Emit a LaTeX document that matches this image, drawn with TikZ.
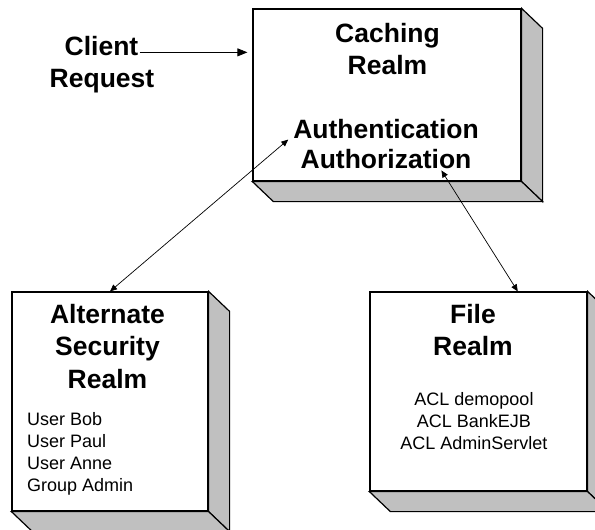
\documentclass[tikz,border=0pt]{standalone}
\usepackage{fontspec}
\setmainfont{Liberation Sans}
\usetikzlibrary{arrows.meta}
\usetikzlibrary{calc}
\definecolor{realmgray}{RGB}{192,192,192}

\begin{document}
\begin{tikzpicture}[x=1pt,y=-1pt,
        realm/.style={draw, line width=1.2pt, fill=white, inner sep=0pt},
        realmface/.style={draw, line width=1.2pt, fill=realmgray},
        title/.style={font=\fontsize{26.5}{32.5}\selectfont\bfseries, align=center, inner sep=1pt},
        entry/.style={font=\fontsize{18}{22}\selectfont, inner sep=1pt},
        link/.style={line width=0.7pt, {Triangle[length=7pt,width=6pt]}-{Triangle[length=7pt,width=6pt]}}]
            % page
            \clip (0,0) rectangle (595,530);

            % realm boxes
            \node[realm, minimum width=268pt, minimum height=172pt] (caching) at (387,95) {};
            \node[realm, minimum width=196pt, minimum height=219pt] (alternate) at (110,401.5) {};
            \node[realm, minimum width=217pt, minimum height=199pt] (file) at (478.5,391.5) {};

            % shaded side and bottom faces
            \foreach \b in {caching,alternate,file} {
                \draw[realmface] (\b.north east) -- ++(21,20) -- ([shift={(21,20)}]\b.south east) -- (\b.south east) -- cycle;
                \draw[realmface] (\b.south west) -- ++(21,20) -- ([shift={(21,20)}]\b.south east) -- (\b.south east) -- cycle;
            }

            % texts
            \node[title, anchor=base] (client) at (101.5,55) {Client};
            \node[title, anchor=base] (request) at (102,87) {Request};
            \node[title] (cachingtitle) at (387.5,49) {Caching\\Realm};
            \node[title] (auth) at (386,129.5) {Authentication};
            \node[title] (authz) at (386,159.5) {Authorization};
            \node[title] (alternatetitle) at (107.5,346.5) {Alternate\\Security\\Realm};
            \node[title] (filetitle) at (473,330) {File\\Realm};

            \node[entry, align=left, anchor=north west] (users) at (26,411) {User Bob\\User Paul\\User Anne\\Group Admin};
            \node[entry, align=center, anchor=north] (acls) at (474,391) {ACL demopool\\ACL BankEJB\\ACL AdminServlet};

            % connectors
            \draw[line width=0.8pt, -{Triangle[length=10pt,width=8pt]}, shorten >=5pt] (client.mid east) -- (client.mid east -| caching.west);
            \draw[link, shorten <=5pt] (auth.mid west) -- (alternate.north);
            \draw[link] ($(authz.south west)!0.82!(authz.south east)$) -- ($(file.north)!0.36!(file.north east)$);
\end{tikzpicture}
\end{document}
